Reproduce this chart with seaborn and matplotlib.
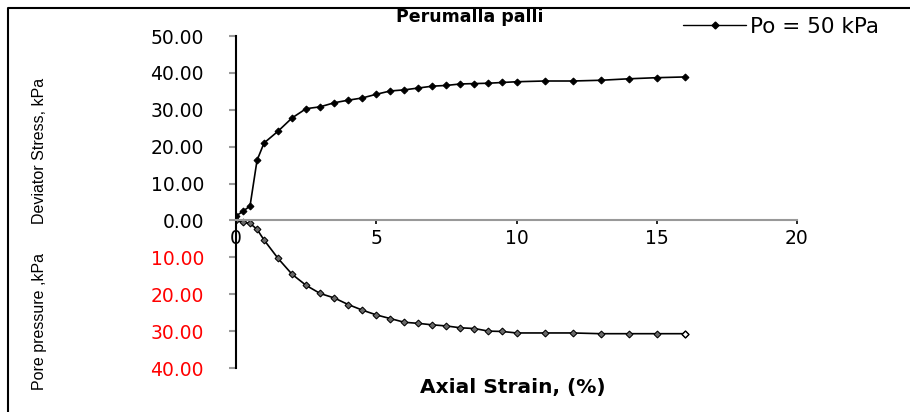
import numpy as np
import pandas as pd
import matplotlib
matplotlib.use("Agg")
import matplotlib.pyplot as plt
import seaborn as sns
from matplotlib.lines import Line2D
from matplotlib.ticker import FuncFormatter

# Veriler
axial_strain = [0, 0.25, 0.5, 0.75, 1.0, 1.5, 2.0, 2.5, 3.0, 3.5, 4.0, 4.5, 5.0, 5.5,
                6.0, 6.5, 7.0, 7.5, 8.0, 8.5, 9.0, 9.5, 10, 11, 12, 13, 14, 15, 16]
deviator_stress = [1.2, 2.5, 3.9, 16.3, 21.0, 24.2, 27.8, 30.3, 30.8, 31.9, 32.6, 33.2,
                   34.2, 35.1, 35.4, 35.9, 36.4, 36.6, 37.0, 37.1, 37.2, 37.4, 37.6,
                   37.8, 37.8, 38.0, 38.4, 38.7, 38.9]
pore_pressure = [0, 0.5, 0.8, 2.4, 5.3, 10.3, 14.6, 17.6, 19.8, 21.0, 22.8, 24.3, 25.6,
                 26.6, 27.6, 27.9, 28.3, 28.6, 29.1, 29.3, 30.0, 30.1, 30.5, 30.5, 30.5,
                 30.7, 30.7, 30.7, 30.7]
x_ticks = [0, 5, 10, 15, 20]
y_ticks = [-40, -30, -20, -10, 0, 10, 20, 30, 40, 50]

df = pd.DataFrame({
    "strain": axial_strain,
    "stress": deviator_stress,
    "pore": -np.array(pore_pressure),
})

sns.set_style("white")
plt.rcParams["font.family"] = ["DejaVu Sans"]
plt.rcParams["text.color"] = "black"
plt.rcParams["xtick.color"] = "black"
plt.rcParams["ytick.color"] = "black"

fig = plt.figure(figsize=(9.1, 4.12), dpi=100)
ax = fig.add_axes([236 / 910, 1 - 368 / 412, (797 - 236) / 910, (368 - 36) / 412])

sns.lineplot(data=df, x="strain", y="stress", ax=ax, color="black", lw=1.2,
             marker="D", markersize=3.5, markeredgecolor="black", label="Po = 50 kPa")
sns.lineplot(data=df, x="strain", y="pore", ax=ax, color="black", lw=1.2,
             marker="D", markersize=3.5, markerfacecolor="dimgray",
             markeredgecolor="black", label="_nolegend_")
# son nokta icin bos isaret
ax.plot(df["strain"].iloc[-1], df["pore"].iloc[-1], marker="D", markersize=3.5,
        markerfacecolor="white", markeredgecolor="black", ls="none")

ax.set_xlim(0, 20)
ax.set_ylim(-40, 50)
ax.set_xticks(x_ticks)
ax.set_yticks(y_ticks)
ax.set_xlabel("")
ax.set_ylabel("")

for side in ["top", "right"]:
    ax.spines[side].set_visible(False)
ax.spines["left"].set_color("black")
ax.spines["left"].set_linewidth(1.5)
ax.spines["bottom"].set_position(("data", 0))
ax.spines["bottom"].set_color("#999999")
ax.spines["bottom"].set_linewidth(1.5)

ax.tick_params(axis="y", direction="out", length=5, width=1.5, color="#999999",
               pad=18, labelsize=13.5, left=True, labelcolor="black")
ax.tick_params(axis="x", direction="out", length=3, width=1.2, color="black",
               pad=3, labelsize=13.5, bottom=True, labelcolor="black")
ax.yaxis.set_major_formatter(FuncFormatter(lambda v, p: f"{abs(v):.2f}"))
for lab, v in zip(ax.get_yticklabels(), y_ticks):
    lab.set_color("red" if v < 0 else "black")

ax.legend_.remove()
handle = Line2D([], [], color="black", lw=1.0, marker="D", markersize=3.5)
fig.legend([handle], ["Po = 50 kPa"], loc="center left",
           bbox_to_anchor=(664 / 910, 1 - 27 / 412), frameon=False,
           fontsize=15.5, handlelength=2.9, handletextpad=0.2)

fig.text(470 / 910, 1 - 17 / 412, "Perumalla palli", ha="center", va="center",
         fontsize=12.5, fontweight="bold")
fig.text(513 / 910, 1 - 388 / 412, "Axial Strain, (%)", ha="center", va="center",
         fontsize=14.5, fontweight="bold")
fig.text(40 / 910, 1 - 151 / 412, "Deviator Stress, kPa", ha="center", va="center",
         rotation=90, fontsize=11.5, family="Liberation Sans")
fig.text(40 / 910, 1 - 321 / 412, "Pore pressure ,kPa", ha="center", va="center",
         rotation=90, fontsize=11.5, family="Liberation Sans")

# cerceve (ust ve sol kenar)
fig.add_artist(Line2D([8 / 910, 8 / 910, 1], [0, 1 - 8 / 412, 1 - 8 / 412],
                      transform=fig.transFigure, color="black", lw=1.5))

fig.savefig("out.png", dpi=100)
